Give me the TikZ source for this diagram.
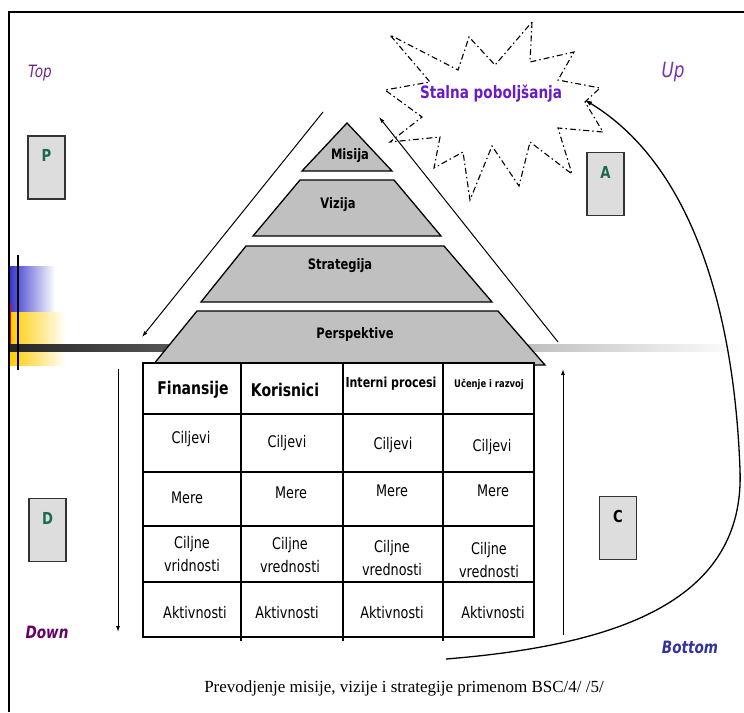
\documentclass[tikz,border=0pt]{standalone}
\usepackage{fontspec}
\setmainfont[FakeStretch=0.8]{DejaVu Sans}
\newfontfamily\capfont{Liberation Serif}
\usepackage{xcolor}
\usepackage{tikz}
\usetikzlibrary{arrows.meta,positioning}

\definecolor{boxgray}{HTML}{DDDDDD}
\definecolor{layergray}{HTML}{C0C0C0}
\definecolor{topviolet}{HTML}{6E2A84}
\definecolor{upviolet}{HTML}{7A30B0}
\definecolor{downpurple}{HTML}{660066}
\definecolor{bottomblue}{HTML}{333399}
\definecolor{starviolet}{HTML}{6A1BC8}
\definecolor{lettergreen}{HTML}{1B6B4B}
\definecolor{tplblue}{HTML}{3333CC}
\definecolor{tplyellow}{HTML}{FFCC00}

\tikzset{
  layer/.style={draw, line width=1.3pt, fill=layergray, line join=miter},
  layertext/.style={font=\fontsize{14.4}{16}\selectfont\bfseries},
  pdcabox/.style={draw=black!80, line width=1.1pt, fill=boxgray,
    minimum width=37pt, minimum height=63pt, inner sep=0pt},
  pdcaletter/.style={font=\fontsize{16.5}{18}\selectfont\bfseries, text=lettergreen, inner sep=0pt},
  cornertext/.style={font=\fontsize{17}{19}\selectfont\itshape},
  flow/.style={line width=1pt, -{Latex[length=6pt,width=4pt]}},
  starline/.style={line width=1.1pt, dash pattern=on 6pt off 3pt on 1.5pt off 3pt},
  tablebox/.style={draw, line width=1.5pt, fill=white},
  gridline/.style={line width=1.2pt},
  headtext/.style={font=\fontsize{17.5}{19}\selectfont\bfseries},
  celltext/.style={font=\fontsize{16}{23}\selectfont, align=center}
}

\begin{document}
\begin{tikzpicture}[x=1pt,y=-1pt]
    \useasboundingbox (0,0) rectangle (744,712);

    % Template decoration
    \shade[left color=tplblue, right color=white] (9,266) rectangle (55,312);
    \shade[left color=tplyellow, right color=white] (9,312) rectangle (66,365);
    \fill[red] (9.5,303) rectangle (11,347);
    \shade[left color=black!85, middle color=black!25, right color=white] (9,344) rectangle (744,351);
    \draw[line width=2pt] (18,255) -- (18,370);

    % Frame
    \draw[line width=2pt] (9,712) -- (9,12) -- (744,12);

    % Corner labels
    \node[cornertext, text=topviolet] (top) at (40,73) {Top};
    \node[cornertext, text=upviolet, font=\fontsize{21}{23}\selectfont\itshape] (up) at (673,72) {Up};
    \node[cornertext, text=downpurple, font=\fontsize{17}{19}\selectfont\bfseries\itshape] (down) at (47,632) {Down};
    \node[cornertext, text=bottomblue, font=\fontsize{17}{19}\selectfont\bfseries\itshape] (bottom) at (690,647) {Bottom};

    % PDCA boxes
    \node[pdcabox] (p) at (46.5,167.5) {};
    \node[pdcaletter, below=14pt of p.north] (pl) {P};
    \node[pdcabox] (a) at (605.5,184) {};
    \node[pdcaletter, below=14pt of a.north] (al) {A};
    \node[pdcabox] (d) at (47.5,530) {};
    \node[pdcaletter, below=14pt of d.north] (dl) {D};
    \node[pdcabox] (c) at (618,528) {};
    \node[pdcaletter, text=black, below=14pt of c.north] (cl) {C};

    % Continuous improvement star
    \draw[starline] (532,22) -- (530,62) -- (574,52) -- (558,80) -- (600,88)
        -- (585,102) -- (603,132) -- (558,128) -- (572,174) -- (530,142)
        -- (519,186) -- (492,146) -- (470,200) -- (463,152) -- (434,168)
        -- (440,137) -- (390,142) -- (422,117) -- (385,90) -- (430,82)
        -- (390,35) -- (458,70) -- (469,37) -- (495,65) -- cycle;
    \node[font=\fontsize{17}{19}\selectfont\bfseries, text=starviolet] (stalna) at (491,94) {Stalna poboljšanja};

    % Pyramid outline
    \coordinate (ltop) at (323,112);
    \coordinate (lbot) at (142,337);
    \coordinate (rtop) at (379,117);
    \coordinate (rbot) at (558,342);
    \draw[flow] (ltop) -- (lbot);
    \draw[flow] (rbot) -- (rtop);

    % Pyramid layers
    \draw[layer] (347,123) -- (392,171) -- (302,171) -- cycle;
    \node[layertext] (misija) at (350,156) {Misija};
    \draw[layer] (300,180) -- (394,180) -- (441,236) -- (253,236) -- cycle;
    \node[layertext] (vizija) at (338,205) {Vizija};
    \draw[layer] (246,246) -- (444,246) -- (492,302) -- (201,302) -- cycle;
    \node[layertext] (strategija) at (340,266) {Strategija};
    \draw[layer] (197,311) -- (498,311) -- (545,365) -- (153,365) -- cycle;
    \node[layertext] (perspektive) at (355,335) {Perspektive};

    % Table
    \draw[tablebox] (143,363) rectangle (534,637);
    \foreach \x in {241,343,443}
        \draw[gridline] (\x,363) -- (\x,641);
    \foreach \y in {414,472,526,582}
        \draw[gridline] (143,\y) -- (534,\y);

    \node[headtext] (fin) at (193,390) {Finansije};
    \node[headtext] (kor) at (285,390) {Korisnici};
    \node[headtext, font=\fontsize{13.8}{15}\selectfont\bfseries] (int) at (391,384) {Interni procesi};
    \node[headtext, font=\fontsize{10.5}{12}\selectfont\bfseries] (uc) at (489,384) {Učenje i razvoj};

    \foreach \x/\y [count=\i] in {191/439,287/443,393/445,492/447}
        \node[celltext] (cilj\i) at (\x,\y) {Ciljevi};
    \foreach \x/\y [count=\i] in {187/498,291/493,392/491,493/491}
        \node[celltext] (mere\i) at (\x,\y) {Mere};
    \foreach \x/\y/\w [count=\i] in {192/554/vridnosti,290/555/vrednosti,392/558/vrednosti,489/560/vrednosti}
        \node[celltext] (vred\i) at (\x,\y) {Ciljne\\\w};
    \foreach \x [count=\i] in {195,287,392,493}
        \node[celltext] (akt\i) at (\x,613) {Aktivnosti};

    % Down / up arrows
    \coordinate (dtop) at (118,369);
    \coordinate (dbot) at (118,632);
    \coordinate (ubot) at (563,635);
    \coordinate (utop) at (563,369);
    \draw[flow] (dtop) -- (dbot);
    \draw[flow] (ubot) -- (utop);

    % Return curve
    \coordinate (cstart) at (446,659);
    \coordinate (cmid) at (740,470);
    \draw[line width=1.3pt, -{Latex[length=7pt,width=5pt]}] (cstart)
        .. controls (620,645) and (745,600) .. (cmid)
        .. controls (735,330) and (700,170) .. (585,100);

    % Caption
    \node[font=\capfont\fontsize{17}{19}\selectfont] (caption) at (404,688) {Prevodjenje misije, vizije i strategije primenom BSC/4/ /5/};
\end{tikzpicture}
\end{document}
